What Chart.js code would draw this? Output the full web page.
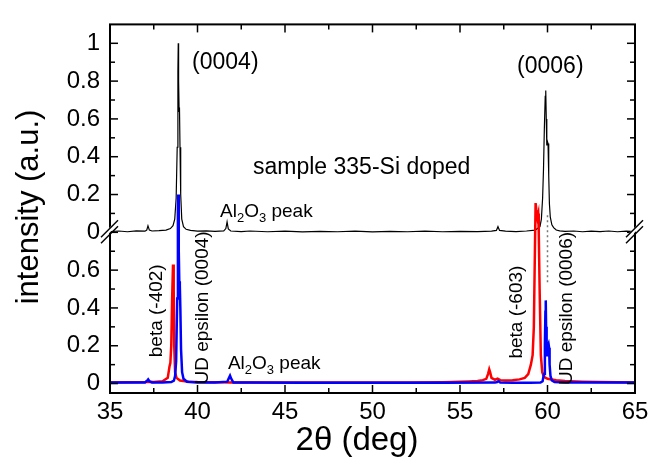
<!DOCTYPE html>
<html><head><meta charset="utf-8">
<script src="https://cdn.jsdelivr.net/npm/chart.js@4/dist/chart.umd.min.js"></script>
<style>html,body{margin:0;padding:0;background:#fff}#wrap{width:671px;height:468px}</style>
</head><body><div id="wrap"><canvas id="c" width="671" height="468"></canvas></div>
<script>
// ---- data ----
const blackX = [35,35.5,36,36.5,37,37.1,37.17,37.25,37.4,37.8,38.2,38.45,38.6,38.7,38.78,38.84,38.88,38.9,38.92,38.95,38.97,39.0,39.04,39.1,39.2,39.35,39.6,40,40.5,41,41.5,41.62,41.69,41.76,41.9,42.5,43,44,45,46,47,48,49,50,51,52,53,54,55,56,56.8,57.08,57.17,57.26,57.6,58.2,58.8,59.3,59.57,59.65,59.72,59.77,59.82,59.87,59.9,59.93,59.96,60.0,60.03,60.07,60.11,60.16,60.25,60.35,60.5,60.7,61,61.5,62,62.5,63,63.5,64,64.5,65];
const blackY = [0.004,0.007,0.003,0.008,0.006,0.012,0.035,0.012,0.007,0.009,0.012,0.02,0.035,0.07,0.18,0.45,0.85,1.0,0.8,0.64,0.66,0.45,0.2,0.07,0.03,0.016,0.01,0.006,0.008,0.005,0.008,0.02,0.055,0.018,0.007,0.004,0.007,0.003,0.006,0.002,0.005,0.003,0.006,0.002,0.005,0.003,0.006,0.003,0.005,0.004,0.006,0.01,0.03,0.01,0.006,0.004,0.007,0.012,0.03,0.07,0.18,0.33,0.55,0.72,0.75,0.6,0.46,0.48,0.47,0.3,0.15,0.08,0.04,0.025,0.012,0.008,0.005,0.007,0.003,0.006,0.004,0.007,0.003,0.006,0.004];

const redX = [35,36,37,37.2,37.5,38,38.3,38.4,38.45,38.5,38.55,38.6,38.64,38.67,38.72,38.8,39,39.5,40,41,42,45,48,50,52,54,55,55.5,56,56.3,56.5,56.6,56.67,56.72,56.8,57,57.15,57.3,57.6,58,58.4,58.7,58.9,59.05,59.15,59.22,59.28,59.32,59.36,59.42,59.47,59.5,59.55,59.62,59.7,59.8,60,60.5,61,62,63,64,65];
const redY = [0.006,0.007,0.008,0.01,0.008,0.012,0.03,0.09,0.11,0.2,0.45,0.63,0.5,0.2,0.06,0.03,0.016,0.01,0.008,0.007,0.006,0.005,0.005,0.005,0.006,0.007,0.009,0.011,0.014,0.018,0.025,0.05,0.075,0.06,0.03,0.02,0.026,0.018,0.016,0.018,0.022,0.03,0.05,0.1,0.15,0.3,0.7,0.955,0.92,0.88,0.9,0.8,0.5,0.15,0.06,0.035,0.025,0.018,0.014,0.01,0.008,0.007,0.006];

const blueX = [35,36,37,37.12,37.18,37.25,37.4,38,38.5,38.65,38.72,38.78,38.84,38.88,38.9,38.93,38.96,38.99,39.02,39.06,39.12,39.2,39.4,40,41,41.7,41.8,41.86,41.93,42.05,43,46,50,54,57,57.12,57.2,57.3,58,59,59.6,59.72,59.8,59.85,59.88,59.9,59.92,59.95,59.98,60.02,60.06,60.09,60.12,60.17,60.25,60.4,61,63,65];
const blueY = [0.005,0.005,0.006,0.015,0.022,0.012,0.006,0.006,0.008,0.015,0.04,0.12,0.45,0.92,1.0,0.7,0.54,0.52,0.4,0.18,0.06,0.025,0.01,0.006,0.005,0.01,0.03,0.042,0.025,0.006,0.005,0.004,0.004,0.004,0.005,0.008,0.013,0.005,0.004,0.004,0.005,0.012,0.05,0.2,0.38,0.44,0.3,0.16,0.15,0.2,0.21,0.19,0.1,0.04,0.016,0.008,0.005,0.005,0.005];

const guideX = [60,60];
const guideY = [0.89,0.53];

const xTicks = [35,40,45,50,55,60,65];
const yBottomTicks = [0,0.2,0.4,0.6];
const yTopTicks = [0,0.2,0.4,0.6,0.8,1];
const TOP_OFFSET = 0.8;   // upper panel zero sits at this value of the shared axis

// ---- build ----
const FONT = '"Liberation Sans", Arial, Helvetica, sans-serif';
const pts = (xs, ys, off=0) => xs.map((x,i)=>({x, y: ys[i] + off}));
const tickMap = new Map();
yBottomTicks.forEach(v => tickMap.set(Math.round(v*100), String(v)));
yTopTicks.forEach(v => tickMap.set(Math.round((v+TOP_OFFSET)*100), String(v)));
const yTickValues = [...tickMap.keys()].sort((a,b)=>a-b).map(k=>k/100);

const notes = [
  {text:'(0004)', x:39.69, y:1.70, size:23, align:'left'},
  {text:'(0006)', x:58.26, y:1.675, size:23, align:'left'},
  {text:'sample 335-Si doped', x:43.17, y:1.14, size:23, align:'left'},
  {al:true, x:41.29, y:0.915},
  {al:true, x:41.74, y:0.11},
  {text:'beta (-402)', x:37.69, y:0.385, size:19, rot:true},
  {text:'UD epsilon (0004)', x:40.31, y:0.40, size:19, rot:true},
  {text:'beta (-603)', x:58.26, y:0.378, size:19, rot:true},
  {text:'UD epsilon (0006)', x:61.11, y:0.397, size:19, rot:true},
];

const deco = {
  id:'deco',
  afterDraw(chart){
    const ctx = chart.ctx, xs = chart.scales.x, ys = chart.scales.y, a = chart.chartArea;
    ctx.save();
    ctx.strokeStyle = '#000';
    ctx.lineWidth = 1.5;
    const line = (x1,y1,x2,y2)=>{ctx.beginPath();ctx.moveTo(x1,y1);ctx.lineTo(x2,y2);ctx.stroke();};
    const xMinor = xTicks.slice(1).map((v,i)=>(v+xTicks[i])/2);
    xTicks.forEach(v=>{const p=xs.getPixelForValue(v); line(p,a.bottom,p,a.bottom-8); line(p,a.top,p,a.top+8);});
    xMinor.forEach(v=>{const p=xs.getPixelForValue(v); line(p,a.bottom,p,a.bottom-5); line(p,a.top,p,a.top+5);});
    const yMin = [];
    const step = yBottomTicks[1]-yBottomTicks[0];
    yBottomTicks.forEach(v=>yMin.push(v+step/2));
    yTopTicks.forEach(v=>yMin.push(v+TOP_OFFSET+step/2));
    yTickValues.forEach(v=>{const p=ys.getPixelForValue(v); line(a.left,p,a.left+8,p); line(a.right,p,a.right-8,p);});
    yMin.forEach(v=>{const p=ys.getPixelForValue(v); if(p>a.top+1){line(a.left,p,a.left+5,p); line(a.right,p,a.right-5,p);}});
    ctx.lineWidth = 2;
    ctx.strokeRect(a.left, a.top, a.right-a.left, a.bottom-a.top);
    const by = ys.getPixelForValue(TOP_OFFSET);
    [a.left, a.right].forEach(bx=>{
      ctx.fillStyle='#fff';
      ctx.beginPath();
      ctx.moveTo(bx-9,by+9); ctx.lineTo(bx+7,by-7); ctx.lineTo(bx+7,by-12); ctx.lineTo(bx-9,by+4); ctx.closePath(); ctx.fill();
      ctx.lineWidth=1.5;
      line(bx-9,by+11,bx+8,by-6);
      line(bx-9,by+5,bx+8,by-12);
    });
    ctx.fillStyle='#000';
    notes.forEach(n=>{
      const px = xs.getPixelForValue(n.x), py = ys.getPixelForValue(n.y);
      if(n.al){
        ctx.textBaseline='alphabetic'; ctx.textAlign='left';
        let cx = px; const base = py+6;
        const seg = (t,s,dy)=>{ctx.font=s+'px '+FONT; ctx.fillText(t,cx,base+dy); cx+=ctx.measureText(t).width;};
        seg('Al',19,0); seg('2',13,5); seg('O',19,0); seg('3',13,5); seg(' peak',19,0);
      } else if(n.rot){
        ctx.save(); ctx.translate(px,py); ctx.rotate(-Math.PI/2);
        ctx.font=n.size+'px '+FONT; ctx.textAlign='center'; ctx.textBaseline='middle';
        ctx.fillText(n.text,0,0); ctx.restore();
      } else {
        ctx.font=n.size+'px '+FONT; ctx.textAlign=n.align; ctx.textBaseline='middle';
        ctx.fillText(n.text,px,py);
      }
    });
    ctx.textAlign='center'; ctx.textBaseline='middle';
    ctx.font='31px '+FONT;
    ctx.save(); ctx.translate(29,207); ctx.rotate(-Math.PI/2); ctx.fillText('intensity (a.u.)',0,0); ctx.restore();
    ctx.font='33px '+FONT;
    ctx.fillText('2\u03B8 (deg)', 357, 441);
    ctx.restore();
  }
};

new Chart(document.getElementById('c'), {
  type:'line',
  data:{datasets:[
    {data:pts(blueX,blueY), borderColor:'#0000ff', borderWidth:2.5},
    {data:pts(redX,redY), borderColor:'#ff0000', borderWidth:2.5},
    {data:pts(blackX,blackY,TOP_OFFSET), borderColor:'#000000', borderWidth:1.2},
    {data:pts(guideX,guideY), borderColor:'#777777', borderWidth:1.5, borderDash:[2,3]},
  ]},
  options:{
    responsive:false, animation:false, devicePixelRatio:1,
    elements:{point:{radius:0}, line:{tension:0}},
    layout:{padding:{left:0,right:36,top:3,bottom:0}},
    plugins:{legend:{display:false}, tooltip:{enabled:false}},
    scales:{
      x:{type:'linear', min:35, max:65,
         afterBuildTicks:s=>{s.ticks = xTicks.map(v=>({value:v}));},
         afterFit:s=>{s.height=75;},
         grid:{display:false, drawTicks:false}, border:{display:false},
         ticks:{color:'#000', font:{family:FONT,size:24}, padding:5, maxRotation:0, autoSkip:false}},
      y:{type:'linear', min:-0.05, max:1.9,
         afterBuildTicks:s=>{s.ticks = yTickValues.map(v=>({value:v}));},
         afterFit:s=>{s.width=110;},
         grid:{display:false, drawTicks:false}, border:{display:false},
         ticks:{color:'#000', font:{family:FONT,size:24}, padding:10, autoSkip:false,
           callback:v=>tickMap.get(Math.round(v*100)) ?? ''}}
    }
  },
  plugins:[deco]
});
</script></body></html>
